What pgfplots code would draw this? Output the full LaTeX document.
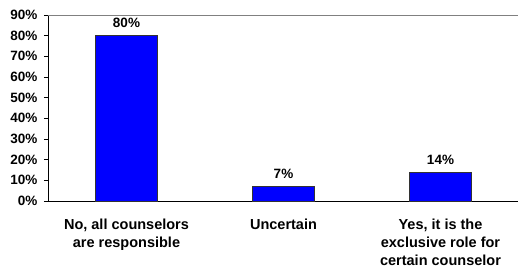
\documentclass[border=0pt]{standalone}
\usepackage{pgfplots}
\pgfplotsset{compat=1.18}
\usepackage{fontspec}
\setmainfont{Liberation Sans}
\begin{document}
\begin{tikzpicture}
\useasboundingbox (-48pt,-67pt) rectangle (470pt,201pt);
\begin{axis}[
  at={(0,0)}, anchor=south west,
  scale only axis,
  width=471pt, height=186pt,
  xmin=-0.5, xmax=2.5,
  ymin=0, ymax=90,
  axis x line*=bottom,
  axis y line*=left,
  axis line style={black, line width=0.8pt},
  ytick={0,10,...,90},
  yticklabel={\pgfmathprintnumber{\tick}\%},
  /pgf/number format/assume math mode=true,
  yticklabel style={font=\fontsize{13.5}{15}\selectfont\bfseries, xshift=-3pt},
  ytick align=outside,
  major tick length=4pt,
  ytick style={black, line width=0.8pt},
  xtick={0,1,2},
  xticklabels={{No, all counselors\\are responsible},{Uncertain},{Yes, it is the\\exclusive role for\\certain counselor}},
  xticklabel style={font=\fontsize{14.5}{18}\selectfont\bfseries, align=center, anchor=north, yshift=-14pt},
  xtick style={draw=none},
  extra x ticks={-0.5,0.5,1.5,2.5},
  extra x tick labels={},
  extra x tick style={tick align=outside, major tick length=4pt, tick style={black, line width=0.8pt, draw=black}},
  bar width=62pt,
  nodes near coords={\pgfmathprintnumber{\pgfplotspointmeta}\%},
  nodes near coords style={font=\fontsize{13.5}{15}\selectfont\bfseries, yshift=4pt},
  clip=false,
]
\addplot[ybar, fill={rgb,255:red,0;green,0;blue,255}, draw=black!80, line width=0.6pt]
  coordinates {(0,80) (1,7) (2,14)};
\draw[gray, line width=1pt] (rel axis cs:0,1) -- (rel axis cs:1,1);
\end{axis}
\end{tikzpicture}
\end{document}
